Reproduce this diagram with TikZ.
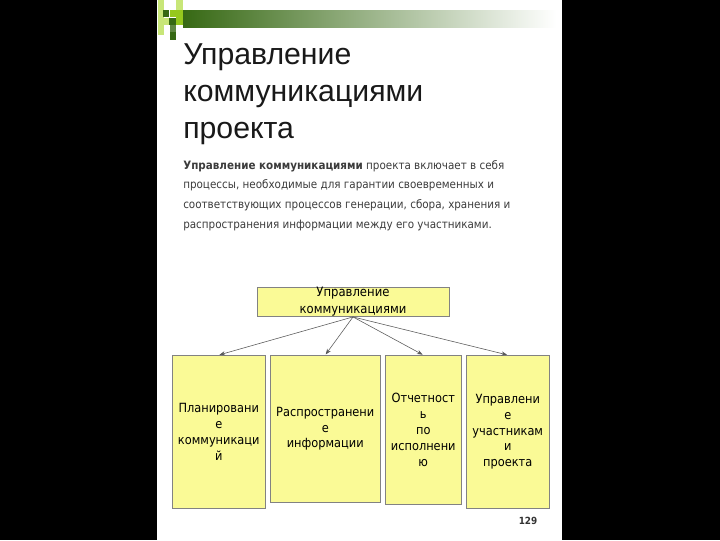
\documentclass[tikz,border=0pt]{standalone}
\usepackage{fontspec}
\setmainfont{Liberation Sans}
\newfontfamily\bodyfont{DejaVu Sans Condensed}
\usetikzlibrary{positioning,arrows.meta}
\definecolor{boxfill}{RGB}{250,250,150}
\definecolor{boxline}{RGB}{130,130,130}
\definecolor{darkgr}{RGB}{55,105,20}
\definecolor{limegr}{RGB}{150,200,30}
\definecolor{palegr}{RGB}{200,230,120}
\definecolor{bodytext}{RGB}{60,60,60}

\begin{document}
\begin{tikzpicture}[x=0.025cm,y=-0.025cm,%
	top box/.style={draw=boxline,fill=boxfill,minimum width=192*0.025cm,
		minimum height=28*0.025cm,inner sep=0pt,align=center,
		font=\bodyfont\fontsize{9.2}{12.2}\selectfont},
	task box/.style={draw=boxline,fill=boxfill,anchor=north west,inner sep=0pt,
		align=center,font=\bodyfont\fontsize{9}{11.3}\selectfont},
	link/.style={-{Stealth[length=4pt,width=3pt]},draw=black!65,thin,shorten >=0.5pt}]
	% page
	\fill[black] (0,0) rectangle (720,540);
	\fill[white] (157,0) rectangle (562,540);
	% top band
	\shade[left color=darkgr,right color=white,shading angle=90] (183,10) rectangle (556,27);
	\fill[palegr] (158,0) rectangle (164,35);
	\fill[darkgr] (163,10) rectangle (169,17);
	\fill[limegr] (170,10) rectangle (176,17);
	\fill[palegr] (176,0) rectangle (183,10);
	\fill[limegr] (176,10) rectangle (183,25);
	\fill[darkgr] (169,18) rectangle (176,25);
	\fill[palegr] (163,18) rectangle (169,25);
	\fill[darkgr!80] (170,25) rectangle (176,32);
	\fill[darkgr] (170,32) rectangle (176,40);
	% title and text
	\node[anchor=north west,inner sep=0pt,align=left,text=black!90,
		font=\fontsize{21.5}{26.3}\selectfont] (title) at (183,43)
		{Управление\\коммуникациями\\проекта};
	\node[anchor=north west,inner sep=0pt,align=left,text=bodytext,
		font=\bodyfont\fontsize{8.2}{14}\selectfont] (intro) at (183,160)
		{\textbf{Управление коммуникациями} проекта включает в себя\\
		процессы, необходимые для гарантии своевременных и\\
		соответствующих процессов генерации, сбора, хранения и\\
		распространения информации между его участниками.};
	% diagram
	\node[top box] (mgmt) at (353,302) {Управление\\коммуникациями};
	\node[task box,minimum width=93*0.025cm,minimum height=153*0.025cm] (plan) at (172,355)
		{Планировани\\е\\коммуникаци\\й};
	\node[task box,minimum width=110*0.025cm,minimum height=147*0.025cm] (dist) at (270,355)
		{Распространени\\е\\информации};
	\node[task box,minimum width=76*0.025cm,minimum height=149*0.025cm] (report) at (385,355)
		{Отчетност\\ь\\по\\исполнени\\ю};
	\node[task box,minimum width=83*0.025cm,minimum height=153*0.025cm] (stake) at (466,355)
		{Управлени\\е\\участникам\\и\\проекта};
	\draw[link] (mgmt.south) -- (plan.north);
	\draw[link] (mgmt.south) -- (dist.north);
	\draw[link] (mgmt.south) -- (report.north);
	\draw[link] (mgmt.south) -- (stake.north);
	\node[font=\bodyfont\bfseries\fontsize{7}{8}\selectfont,text=black!80] (pagenum) at (528,521) {129};
\end{tikzpicture}
\end{document}
